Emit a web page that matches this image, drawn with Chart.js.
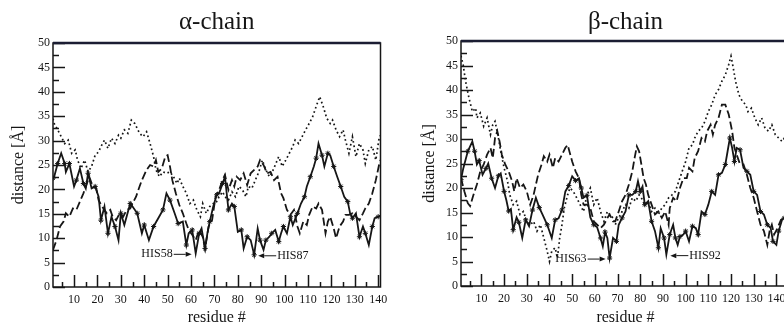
<!doctype html>
<html lang="en">
  <head>
    <meta charset="utf-8">
    <title>Heme distance profiles</title>
    <script src="https://cdn.jsdelivr.net/npm/chart.js"></script>
    <style>
      html, body {
        margin: 0;
        padding: 0;
        background: #fff;
        overflow: hidden;
        width: 784px;
        height: 325px;
      }
      .panel {
        position: absolute;
        top: 0;
      }
      #alphaPanel { left: 0; }
      #betaPanel { left: 400px; }
    </style>
  </head>
  <body>
    <div class="panel" id="alphaPanel"><canvas id="alphaChart" width="395" height="325"></canvas></div>
    <div class="panel" id="betaPanel"><canvas id="betaChart" width="404" height="325"></canvas></div>

    <script>
      // residue #, distance [Å]
      const alphaSolid = [[1,22.3],[1.5,22.6],[3,25.3],[4.5,27.4],[6,25.3],[6.5,23.6],[8,25.3],[10,20.6],[11,21.9],[12.5,24.3],[14,21.2],[15,20.2],[16,23.3],[17.5,20.2],[19,20.6],[20.5,18.5],[21.5,13.7],[23,16.5],[24.5,11],[26,14.4],[27.5,12.4],[29,9.6],[30,15.1],[31.5,12.7],[34,17.1],[35,16.5],[37,15.1],[39,11],[40,12.7],[42,9.6],[44,12.4],[46,14.1],[48,15.8],[49.5,19.2],[51,17.8],[53,15.1],[54.5,13],[56.5,13.4],[58,8.6],[59,11],[60.5,11.7],[62,6.9],[63.5,11],[64.5,12],[66,7.9],[67,11],[68,13.4],[69.5,16.5],[71,18.9],[72,19.2],[73.5,21.2],[74.5,22.6],[76,15.8],[77.5,17.1],[78.5,16.5],[80,11.3],[81.5,11.7],[82.5,7.9],[84,10.3],[85.5,9.6],[87,6.6],[88.5,12],[89.5,9.6],[91,7.6],[92,9.6],[93.5,10.3],[94.5,11],[96,11.7],[97.5,9.3],[98.5,11],[99.5,12.4],[101,11],[102.5,14.4],[103.5,12.7],[105.5,15.1],[107,17.1],[108.5,18.5],[109.5,20.6],[111,22.6],[112.5,24.7],[113.5,26.4],[114.5,29.4],[116,27],[117,24.7],[118.5,27.4],[119.5,27],[121,24.7],[122.5,22.6],[124,20.6],[125.5,18.5],[127,17.5],[128,15.1],[129,14.1],[130.5,15.1],[132,10.3],[133.5,12.4],[134.5,11],[136,8.6],[137.5,12.4],[138.5,14.1],[140,14.4],[141,14.6]];
      const alphaDashed = [[1,7.6],[2.5,9.6],[4,12.4],[5.5,13.4],[6.5,15.1],[8,14.4],[9.5,16.1],[11,15.8],[12.5,17.5],[14,19.2],[15.5,21.2],[16.5,22.6],[18,20.6],[19.5,20.2],[20.5,17.8],[22,16.5],[24,15.1],[25.5,15.8],[26.5,14.4],[28,13.7],[29.5,15.1],[31,14.4],[32.5,15.8],[34,16.1],[35,17.1],[36.5,18.5],[38,20.6],[39,21.9],[41,24],[42.5,25],[44,24.7],[45,26],[46,23.6],[47.5,24.3],[49,26.7],[50,27],[51,24.7],[52,21.9],[53.5,19.2],[55,16.8],[56.5,15.1],[58,13],[59,11.7],[60.5,10.7],[62,9.6],[63.5,11.7],[65,10.3],[66,7.9],[67.5,12.4],[69,13.7],[70.5,18.5],[72,19.9],[73.5,21.9],[74.5,23],[76,19.9],[77.5,21.9],[78.5,20.6],[79.5,22.6],[81,21.9],[82.5,23.3],[84,20.9],[85.5,23.3],[87,24],[88.5,24.7],[89.5,26],[91,25],[92.5,23.3],[94,23.6],[95.5,21.9],[97,22.6],[98.5,19.2],[99.5,18.2],[101,15.8],[102.5,14.8],[104,15.8],[105.5,12.4],[106.5,11],[108,13.4],[109.5,12.7],[110.5,14.8],[112,16.5],[113.5,16.1],[114.5,17.1],[116,15.8],[117.5,11],[118.5,13.4],[119.5,14.4],[121,12],[122,10],[123.5,12.4],[125,13.4],[126,14.8],[127.5,14.8],[129,15.1],[130.5,14.4],[132,13.7],[133.5,15.1],[134.5,16.1],[136,17.1],[137.5,19.2],[139,21.9],[140.5,25.3],[141,26]];
      const alphaDotted = [[1,34.5],[1.5,33.5],[3,32.2],[4.5,30.8],[6,29.4],[7.5,30.1],[9,27.4],[10.5,28.1],[11.5,26],[13,24.3],[14.5,26],[16,23.6],[17.5,24.7],[19,27],[20.5,27.7],[21.5,28.8],[23,30.1],[24.5,28.4],[26,30.5],[27.5,29.4],[29,31.1],[30,30.5],[31.5,32.2],[33,31.5],[34.5,34.2],[36,33.5],[37,32.5],[38,31.5],[39.5,30.8],[41,31.8],[42.5,29.4],[44,26.7],[45,24],[46.5,22.6],[48,23.6],[49.5,23.3],[51,23.6],[52.5,22.6],[54,21.2],[55,22.3],[56.5,20.6],[58,19.2],[59.5,17.1],[61,17.8],[62.5,15.8],[64,14.4],[65,17.1],[66.5,15.1],[68,16.5],[69.5,17.1],[70.5,17.1],[72,18.5],[73.5,19.5],[74.5,18.5],[76,17.8],[77.5,19.5],[79,18.5],[80.5,20.6],[82,19.9],[83.5,18.5],[84.5,20.6],[86,20.2],[87.5,21.9],[89,23.6],[90.5,26],[92,24],[93.5,22.6],[94.5,23.3],[96,25],[97.5,26.7],[99,24.7],[100.5,26],[102,27.4],[103.5,28.8],[104.5,30.1],[106,29.4],[107.5,30.8],[109,32.2],[110.5,33.5],[112,34.9],[113.5,37],[115,39],[116.5,37],[118,34.6],[119.5,33.5],[120.5,34.2],[122,32.2],[123.5,30.8],[125,32.2],[126,30.1],[127.5,27.4],[129,30.8],[130.5,26.7],[132,29.4],[133.5,28.1],[134.5,25.3],[136,28.1],[137.5,28.8],[139,26],[140.5,30.8],[141,31]];

      const betaSolid = [[1,21.7],[2,24],[4,27.5],[6,29.5],[7,27.5],[8,24.8],[9,25.6],[10.5,22.7],[12,24],[13,25],[14.5,22],[16,20],[17.5,22.5],[18.5,23],[20,19.3],[21,17.5],[22,15.3],[23,15.7],[24,11.5],[25.5,14],[26.5,13],[28,9.8],[29.5,13.5],[31,12.2],[32.5,15.5],[34,18],[35.5,16],[37,14.5],[39,12.5],[41,9.8],[42.5,13.5],[44,13.8],[45.5,15.5],[47,19.3],[48.5,20.5],[50,22.4],[51.5,21.5],[53,22],[54,20],[55,18],[56.5,18.5],[58,14],[59.5,12.5],[61,12],[62.5,9.8],[63.5,8.1],[64.5,11],[65.5,9.8],[66.5,5.7],[68,9.8],[69.5,9.1],[70.5,12.5],[72,13.9],[73.5,15.2],[75,18.6],[76.5,18.6],[78,19.3],[79,21.4],[80,19.3],[81,20.3],[82,16.6],[83.5,17.3],[85,13.2],[86.5,11.2],[88,7.8],[89,11.8],[90.5,9.8],[91.5,6.4],[93,10.5],[94.5,12.5],[95.5,9.8],[96.5,8.4],[97.5,10.1],[99,10.5],[100,11.2],[101.5,9.1],[103,12.2],[104.5,11.8],[105.5,10.5],[107,15.2],[108.5,14.6],[110,16.6],[111.5,19.3],[113,18.6],[114.5,22.7],[116,23.1],[117.5,24.8],[118.5,27.5],[119.5,30.2],[120.5,28.2],[121.5,25.4],[122.5,28.2],[124,27.8],[125.5,24.1],[127,23.4],[128.5,22.7],[130,19.3],[131.5,18.6],[133,15.2],[134.5,14.6],[136,12.5],[137.5,11.8],[138.5,9.1],[140,8.4],[141,11.2],[142.5,13.5],[143.5,13.9],[146,15]];
      const betaDashed = [[1,22],[2.5,19.3],[4,16.9],[5,16.3],[6.5,18.6],[8,20.7],[9.5,23.4],[11,24.8],[12.5,26.8],[14,28.2],[15,26.1],[16,30.2],[17,31.6],[18,29.5],[19,26.8],[20.5,24.8],[22,23.4],[23.5,21.4],[24.5,19.3],[25.5,22],[27,20],[28.5,20.7],[30,19.3],[31.5,16.6],[33,18.6],[34,20.7],[35,22.7],[36.5,24.8],[37.5,26.5],[39,25.4],[40,26.8],[41.5,24.1],[42.5,26.1],[44,25.4],[45.5,26.8],[47,28.2],[48,28.8],[49,27.1],[50,25.4],[51.5,23.4],[53,22],[54,18.6],[55,16.6],[56.5,16.6],[58,15.9],[59.5,13.2],[61,12.5],[62.5,11.8],[64,12.5],[65.5,13.9],[66.5,14.6],[68,13.2],[69,13.2],[70.5,15.2],[72,17.3],[73.5,18.6],[75,20.7],[76.5,23.4],[77.5,26.1],[78.5,28.5],[79.5,27.5],[80.5,24.8],[81.5,22],[82.5,20.7],[83.5,18.6],[85,16.6],[86.5,14.6],[88,15.2],[89.5,13.9],[91,15.2],[92.5,12.5],[93,15.9],[94.5,18],[96,17.3],[97.5,20],[99,22],[100.5,22],[101.5,24.1],[103,23.4],[104,26.1],[105.5,27.5],[107,30.2],[108.5,29.5],[109.5,31.6],[111,32.9],[112,30.9],[113,32.9],[114.5,34.3],[116,37],[117.5,37],[119,35],[120.5,31.6],[121.5,28.2],[122.5,26.8],[124,24.8],[125.5,24.8],[127,22.7],[128.5,20],[130,18],[131.5,15.2],[133,12.5],[134.5,11.2],[136,8.4],[137,11.2],[138,12.5],[139,10.5],[140.5,11.8],[142,13.5],[143.5,13.9],[146,14.5]];
      const betaDotted = [[1,47],[2,45],[3,41.8],[4.5,38.4],[6,35.6],[7.5,36.3],[8,34.3],[9.5,35.3],[11,32.6],[12.5,34.3],[14,30.9],[15,32.9],[16,33.6],[17.5,30.2],[18.5,27.5],[20,24.1],[21.5,21.4],[22.5,18.6],[24,16.6],[25.5,17.3],[27,14.6],[28.5,15.2],[30,13.2],[31.5,12.5],[33,13.2],[34.5,11.2],[36,12.5],[37.5,9.8],[39,7.1],[40,5],[41,7.1],[42.5,7.8],[43.5,5.7],[44.5,9.8],[45.5,12.5],[46.5,15.9],[48,18.6],[49,20],[50.5,19.3],[52,18],[53.5,16.6],[55,15.2],[56.5,18.6],[58,20],[59.5,16.6],[61,18],[62.5,15.2],[64,13.2],[65.5,15.2],[66.5,14.6],[68,13.9],[69,12.5],[70.5,13.9],[72,15.2],[73.5,16.6],[75,15.9],[76.5,18],[78,17.3],[79.5,18.6],[80.5,18],[82,16.6],[83.5,17.3],[85,15.2],[86.5,15.9],[88,14.6],[89.5,15.9],[91,16.6],[92.5,18],[94,18.6],[95.5,19.3],[97,21.4],[98.5,23.4],[100,25.4],[101.5,28.2],[103,28.8],[104,30.2],[105.5,31.6],[107,32.2],[108.5,33.6],[110,35.6],[111.5,37],[113,39],[114.5,40.1],[116,41.8],[117.5,43.1],[119,45.2],[120,46.9],[121,44.5],[122,41.8],[123.5,39],[125,37.7],[126.5,37],[127.5,35.6],[129,36.3],[130.5,34.3],[132,32.9],[133.5,34.3],[135,32.2],[136.5,31.6],[138,32.9],[139.5,30.9],[141,30.2],[142.5,29.5],[143.5,30.2],[146,29]];

      // axis ticks
      const yTickLabels = [0, 5, 10, 15, 20, 25, 30, 35, 40, 45, 50];
      const yMinorTicks = [2.5, 7.5, 12.5, 17.5, 22.5, 27.5, 32.5, 37.5, 42.5, 47.5];
      const xTickLabels = [10, 20, 30, 40, 50, 60, 70, 80, 90, 100, 110, 120, 130, 140];
      const xMinorTicks = [5, 15, 25, 35, 45, 55, 65, 75, 85, 95, 105, 115, 125, 135, 145];

      // histidine labels
      const alphaMarks = [
        { text: 'HIS58', res: 62, dist: 6.9, side: 'left' },
        { text: 'HIS87', res: 87, dist: 6.6, side: 'right' }
      ];
      const betaMarks = [
        { text: 'HIS63', res: 66.5, dist: 5.7, side: 'left' },
        { text: 'HIS92', res: 91.5, dist: 6.4, side: 'right' }
      ];

      const ink = '#161616';
      const serif = "'Liberation Serif', 'DejaVu Serif', serif";

      // panel title, frame, inward ticks and arrow labels
      const framePlugin = {
        id: 'framePlugin',
        afterDraw(chart, args, opts) {
          const { ctx, chartArea: a, scales: { x, y } } = chart;
          ctx.save();

          ctx.fillStyle = ink;
          ctx.font = '25px ' + serif;
          ctx.textAlign = 'center';
          ctx.textBaseline = 'alphabetic';
          ctx.fillText(opts.title, (a.left + a.right) / 2, 29);

          ctx.strokeStyle = ink;
          ctx.lineWidth = 1.5;
          yTickLabels.concat(yMinorTicks).forEach(v => {
            const py = Math.round(y.getPixelForValue(v)) + 0.5;
            const len = v % 5 === 0 ? 12 : 6;
            ctx.beginPath();
            ctx.moveTo(a.left, py);
            ctx.lineTo(a.left + len, py);
            ctx.stroke();
          });
          xTickLabels.concat(xMinorTicks).forEach(v => {
            if (v > x.max) return;
            const px = Math.round(x.getPixelForValue(v)) + 0.5;
            const len = v % 10 === 0 ? 12 : 5;
            ctx.beginPath();
            ctx.moveTo(px, a.bottom);
            ctx.lineTo(px, a.bottom - len);
            ctx.stroke();
          });

          ctx.strokeRect(a.left, a.top, a.right - a.left, a.bottom - a.top);
          ctx.strokeStyle = '#1b1d33';
          ctx.lineWidth = 2.5;
          ctx.beginPath();
          ctx.moveTo(a.left, a.top);
          ctx.lineTo(a.right, a.top);
          ctx.stroke();

          ctx.strokeStyle = ink;
          ctx.lineWidth = 1;
          ctx.font = '12px ' + serif;
          ctx.textBaseline = 'middle';
          (opts.marks || []).forEach(m => {
            const px = x.getPixelForValue(m.res);
            const py = y.getPixelForValue(m.dist) + 1;
            const dir = m.side === 'left' ? -1 : 1;
            const tip = px + dir * 4;
            const base = tip + dir * 6;
            const tail = px + dir * 22;
            ctx.beginPath();
            ctx.moveTo(tail, py);
            ctx.lineTo(base, py);
            ctx.stroke();
            ctx.beginPath();
            ctx.moveTo(tip, py);
            ctx.lineTo(base, py - 2.5);
            ctx.lineTo(base, py + 2.5);
            ctx.closePath();
            ctx.fill();
            ctx.textAlign = m.side === 'left' ? 'right' : 'left';
            ctx.fillText(m.text, px + dir * 23, py);
          });
          ctx.restore();
        }
      };

      function toPoints(pairs) {
        return pairs.map(([res, dist]) => ({ x: res, y: dist }));
      }

      function makeChart(id, title, solid, dashed, dotted, marks, cfg) {
        return new Chart(document.getElementById(id), {
          type: 'line',
          data: {
            datasets: [
              {
                data: toPoints(dotted),
                borderColor: ink,
                borderWidth: 1.7,
                borderDash: [1.7, 2.8],
                pointRadius: 0
              },
              {
                data: toPoints(dashed),
                borderColor: ink,
                borderWidth: 1.8,
                borderDash: [8, 3.5],
                pointRadius: 0
              },
              {
                data: toPoints(solid),
                borderColor: ink,
                borderWidth: 1.8,
                pointStyle: 'star',
                pointRadius: ctx => (ctx.dataIndex % 2 === 0 ? 2.6 : 0),
                pointBorderColor: ink,
                pointBorderWidth: 1
              }
            ]
          },
          options: {
            responsive: false,
            animation: false,
            devicePixelRatio: 1,
            elements: { line: { tension: 0 } },
            layout: { padding: { left: 0, right: cfg.padRight, top: cfg.top, bottom: 0 } },
            plugins: {
              legend: { display: false },
              tooltip: { enabled: false },
              title: { display: false },
              framePlugin: { title: title, marks: marks }
            },
            scales: {
              x: {
                type: 'linear',
                min: 1,
                max: cfg.xMax,
                afterBuildTicks: s => { s.ticks = xTickLabels.map(v => ({ value: v })); },
                afterFit: s => { s.height = cfg.xHeight; },
                ticks: {
                  autoSkip: false,
                  maxRotation: 0,
                  padding: 6,
                  color: ink,
                  font: { family: serif, size: 12 }
                },
                grid: { display: false, drawTicks: false },
                border: { display: false },
                title: {
                  display: true,
                  text: 'residue #',
                  color: ink,
                  font: { family: serif, size: 16, lineHeight: 0.8 },
                  padding: { top: 0, bottom: 1 }
                }
              },
              y: {
                type: 'linear',
                min: 0,
                max: 50,
                afterBuildTicks: s => { s.ticks = yTickLabels.map(v => ({ value: v })); },
                afterFit: s => { s.width = cfg.yWidth; },
                ticks: {
                  autoSkip: false,
                  padding: 3,
                  color: ink,
                  font: { family: serif, size: 12 }
                },
                grid: { display: false, drawTicks: false },
                border: { display: false },
                title: {
                  display: true,
                  text: 'distance [Å]',
                  color: ink,
                  font: { family: serif, size: 16 },
                  padding: { top: cfg.yTitlePad, bottom: 0 }
                }
              }
            }
          },
          plugins: [framePlugin]
        });
      }

      makeChart('alphaChart', 'α-chain', alphaSolid, alphaDashed, alphaDotted, alphaMarks,
        { xMax: 141, padRight: 14.5, top: 43, yWidth: 53, xHeight: 38, yTitlePad: 9.4 });
      makeChart('betaChart', 'β-chain', betaSolid, betaDashed, betaDotted, betaMarks,
        { xMax: 146, padRight: 14, top: 41, yWidth: 61, xHeight: 39, yTitlePad: 20 });
    </script>
  </body>
</html>
